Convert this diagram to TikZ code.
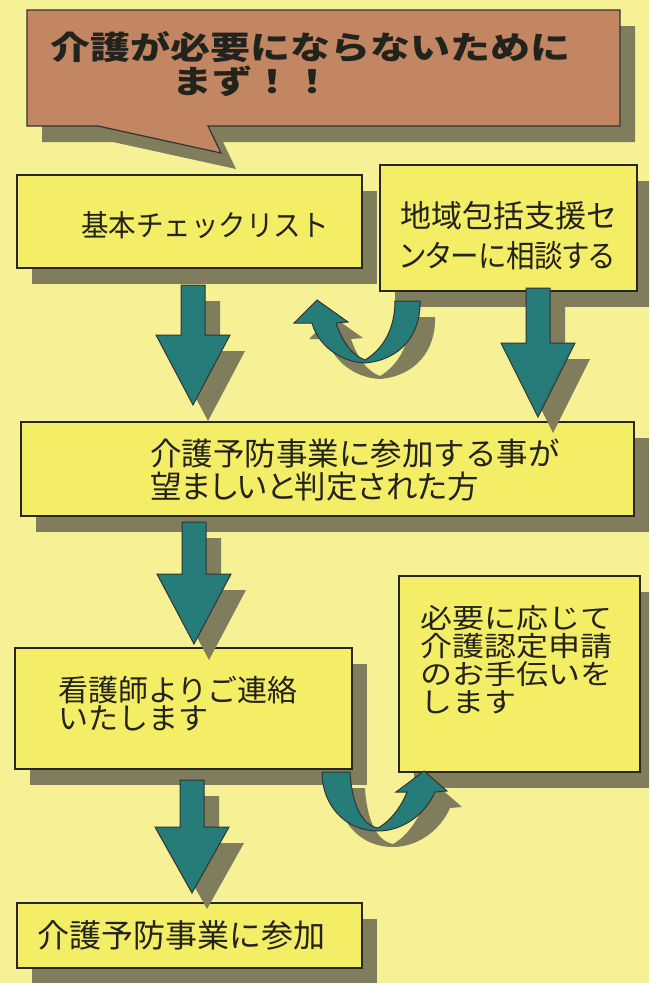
\documentclass[tikz,border=0pt]{standalone}
\usepackage{fontspec}
\usepackage{graphicx}
\usetikzlibrary{shadows}
\newfontfamily\jp{Noto Sans CJK JP}
\newfontfamily\jpp{Noto Sans CJK JP}[RawFeature=+palt]
\definecolor{bgc}{RGB}{247,241,150}
\definecolor{boxc}{RGB}{244,237,102}
\definecolor{shadowc}{RGB}{128,125,92}
\definecolor{tealc}{RGB}{38,124,120}
\definecolor{calloutc}{RGB}{194,134,98}
\definecolor{inkc}{RGB}{35,35,30}
\newcommand\blockarrow[4]{%
  \path[blockarr] ({#1-12},#2) -- ({#1+12},#2) -- ({#1+12},#3) -- ({#1+37},#3)
    -- (#1,#4) -- ({#1-37},#3) -- ({#1-12},#3) -- cycle;}
\begin{document}
\begin{tikzpicture}[x=1pt,y=-1pt,
  shad/.style={drop shadow={shadow xshift=15pt, shadow yshift=-16pt, opacity=1, fill=shadowc}},
  box/.style={draw=black!85, line width=1.2pt, fill=boxc, inner sep=0pt, outer sep=0pt, anchor=north west, shad},
  blockarr/.style={fill=tealc, draw=black!80, line width=1pt, line join=miter, shad},
  txt/.style={anchor=base west, inner sep=0pt, text=inkc}]
\useasboundingbox (0,0) rectangle (649,983);
\clip (0,0) rectangle (649,983);
\fill[bgc] (0,0) rectangle (649,983);

% callout
\path[fill=calloutc, draw=black!80, line width=1.2pt, shad]
  (27,10) -- (620,10) -- (620,126) -- (208,126) -- (221,153) -- (98,126) -- (27,126) -- cycle;
\node[txt, font=\jp\bfseries\fontsize{40}{40}\selectfont] (t1) at (50,59) {\scalebox{1}[0.8]{介護が必要にならないために}};
\node[txt, font=\jp\bfseries\fontsize{40}{40}\selectfont] (t2) at (172,93) {\scalebox{1}[0.8]{まず！！}};

% boxes
\node[box, minimum width=345pt, minimum height=93pt] (b1) at (17,175) {};
\node[box, minimum width=257pt, minimum height=126pt] (b2) at (380,165) {};
\node[box, minimum width=613pt, minimum height=94pt] (b3) at (21,422) {};
\node[box, minimum width=337pt, minimum height=121pt] (b4) at (15,648) {};
\node[box, minimum width=241pt, minimum height=196pt] (b5) at (399,576) {};
\node[box, minimum width=345pt, minimum height=65pt] (b6) at (17,903) {};

% texts
\node[txt, font=\jp\fontsize{27.5}{27.5}\selectfont] (l1) at (81,236) {\scalebox{1}[1.08]{基本チェックリスト}};
\node[txt, font=\jp\fontsize{31}{31}\selectfont] (l2a) at (400,227) {地域包括支援セ};
\node[txt, font=\jpp\fontsize{31}{31}\selectfont] (l2b) at (400,267) {\scalebox{0.92}[1]{ンターに相談する}};
\node[txt, font=\jp\fontsize{31.5}{31.5}\selectfont] (l3a) at (150,465) {介護予防事業に参加する事が};
\node[txt, font=\jpp\fontsize{31.5}{31.5}\selectfont] (l3b) at (150,498) {望ましいと判定された方};
\node[txt, font=\jp\fontsize{30}{30}\selectfont] (l4a) at (58,701) {看護師よりご連絡};
\node[txt, font=\jp\fontsize{30}{30}\selectfont] (l4b) at (58,729) {いたします};
\node[txt, font=\jp\fontsize{32}{32}\selectfont] (l5a) at (420,628) {\scalebox{1}[0.86]{必要に応じて}};
\node[txt, font=\jp\fontsize{32}{32}\selectfont] (l5b) at (420,656) {\scalebox{1}[0.86]{介護認定申請}};
\node[txt, font=\jp\fontsize{32}{32}\selectfont] (l5c) at (420,684) {\scalebox{1}[0.86]{のお手伝いを}};
\node[txt, font=\jp\fontsize{32}{32}\selectfont] (l5d) at (420,712) {\scalebox{1}[0.86]{します}};
\node[txt, font=\jp\fontsize{32}{32}\selectfont] (l6) at (37,947) {介護予防事業に参加};

% straight block arrows
\blockarrow{193}{285}{335}{405}
\blockarrow{538}{288}{343}{417}
\blockarrow{194}{522}{574}{644}
\blockarrow{192}{780}{827}{893}

% u-turn arrows
\path[blockarr] (395,301) -- (420,301) .. controls (421,335) and (400,360) .. (365,363)
  .. controls (340,362) and (318,345) .. (312,323) -- (294,323) -- (317,300) -- (348,322)
  -- (336,323) .. controls (343,343) and (352,355) .. (365,360)
  .. controls (382,350) and (395,330) .. (395,301) -- cycle;
\path[blockarr] (322,772) -- (350,772) .. controls (352,805) and (362,825) .. (378,828)
  .. controls (392,820) and (402,805) .. (407,792) -- (396,792) -- (424,771) -- (447,791)
  -- (435,792) .. controls (425,815) and (402,831) .. (378,831)
  .. controls (345,831) and (322,805) .. (322,772) -- cycle;
\end{tikzpicture}
\end{document}
